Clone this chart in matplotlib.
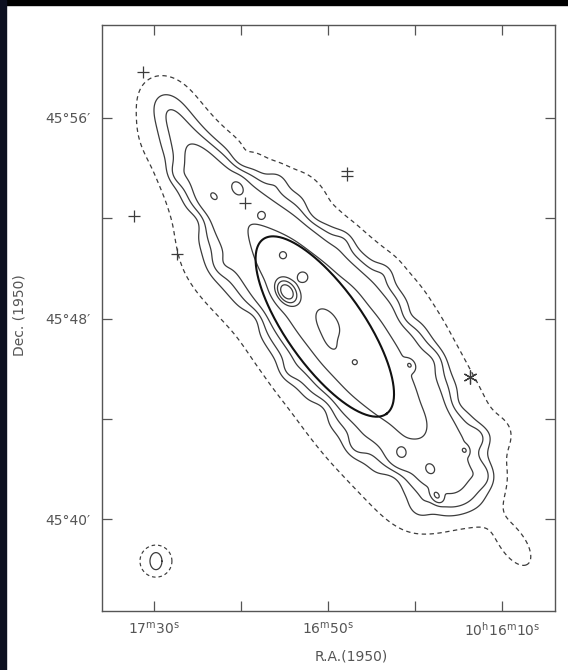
import numpy as np
import matplotlib
matplotlib.use("Agg")
import matplotlib.pyplot as plt
from matplotlib.patches import Rectangle

plt.rcParams['font.family'] = ['DejaVu Sans']
plt.rcParams['mathtext.fontset'] = 'dejavusans'

# ---------------- axes: RA in seconds past 10h00m, Dec in arcmin past 45 deg ----------------
ra_limits = (1061.9, 957.8)
dec_limits = (36.33, 59.71)
ra_ticks = [1050, 1030, 1010, 990, 970]
ra_tick_labels = [r"17$^{\rm m}$30$^{\rm s}$", "", r"16$^{\rm m}$50$^{\rm s}$", "",
                  r"10$^{\rm h}$16$^{\rm m}$10$^{\rm s}$"]
dec_ticks = [56, 52, 48, 44, 40]
dec_tick_labels = ["45°56′", "", "45°48′", "", "45°40′"]

# ---------------- galaxy frame ----------------
center_ra = 1009.1          # s
center_dec = 47.74          # arcmin
major_axis_angle = 54.7     # deg below horizontal (NE-SW)
arcmin_per_sec = 0.1743

# disk components (offsets along major u / minor v axis, arcmin)
disk_u = [-11.0, -9.5, -8.0, -6.5, -5.0, -3.5, -2.0, -0.5, 1.0, 2.5, 4.0, 5.5, 7.0, 8.5, 10.0, 11.5]
disk_v = [-0.35, -0.5, -0.65, -0.5, -0.35, -0.15, 0.0, 0.15, 0.25, 0.3, 0.35, 0.4, 0.45, 0.3, 0.8, 0.8]
disk_amp = [0.20, 0.20, 0.30, 0.37, 0.39, 0.50, 0.57, 0.60, 0.60, 0.57, 0.48, 0.39, 0.33, 0.25, 0.03, 0.02]
disk_su = [0.9] * 16
disk_sv = [0.75, 0.85, 1.0, 1.19, 1.40, 1.41, 1.50, 1.61, 1.64, 1.59, 1.53, 1.51, 1.40, 1.25, 0.6, 0.5]

# faint outer features, edge irregularities and compact knots
clump_u = [-4.5, -5.0, 7.4, 7.0, 4.0, 11.4, -10.0, 10.3,
           -7.5, -6.0, -4.0, -2.5, -0.5, 1.5, 3.5, 5.5, 7.0,
           -8.5, -6.5, -4.5, -2.0, 0.5, 2.5, 4.5, 6.5, 8.0,
           -2.12, -2.24, -3.41, -0.18, 1.74, 3.11, 7.15, 7.98, -6.67, -5.21,
           0.6, 2.68, -0.4, 4.9, 5.81, 7.0, -8.3, -7.0, 8.4]
clump_v = [-3.0, 2.3, 3.0, -2.3, -2.8, 0.9, -1.8, -1.0,
           0.9, 1.6, 2.1, 2.4, 3.0, 2.6, 2.5, 2.3, 2.2,
           -1.6, -2.0, -2.2, -2.4, -2.5, -2.2, -2.0, -1.6, -1.4,
           -0.71, 0.16, 0.02, -0.12, -0.11, 1.62, 1.45, -0.5, 0.12, 0.26,
           -0.53, -0.03, 1.17, 0.35, -0.78, -0.15, -0.5, -1.0, 1.5]
clump_amp = [0.07, 0.05, 0.06, 0.06, 0.04, 0.14, 0.05, -0.05,
             -0.06, 0.07, -0.06, 0.06, 0.06, -0.06, 0.07, -0.05, 0.08,
             0.06, -0.06, 0.06, -0.06, 0.06, -0.06, 0.07, -0.05, 0.06,
             2.0, 0.45, 0.4, 0.3, 0.25, 0.5, 0.3, 0.35, 0.25, 0.2,
             0.2, 0.18, 0.15, 0.2, 0.2, 0.18, 0.07, 0.12, 0.08]
clump_su = [1.5, 0.8, 0.5, 1.5, 1.5, 0.75, 1.0, 0.6,
            0.35, 0.35, 0.4, 0.35, 0.35, 0.4, 0.4, 0.4, 0.35,
            0.35, 0.4, 0.35, 0.4, 0.35, 0.4, 0.35, 0.4, 0.35,
            0.32, 0.15, 0.15, 0.45, 0.08, 0.15, 0.12, 0.18, 0.25, 0.1,
            0.5, 0.5, 0.4, 0.4, 0.35, 0.3, 0.5, 0.4, 0.4]
clump_sv = [0.7, 0.6, 0.5, 0.6, 0.6, 0.38, 0.5, 0.6,
            0.3, 0.3, 0.35, 0.3, 0.3, 0.35, 0.35, 0.35, 0.3,
            0.3, 0.35, 0.3, 0.35, 0.3, 0.35, 0.3, 0.35, 0.3,
            0.22, 0.15, 0.15, 0.28, 0.08, 0.12, 0.1, 0.12, 0.18, 0.1,
            0.25, 0.3, 0.2, 0.3, 0.3, 0.25, 0.3, 0.3, 0.35]

level_dashed = [0.08]
levels_solid = [0.2, 0.27, 0.36, 0.6, 1.0, 1.4, 2.0, 2.8]

# model ellipse (heavy line)
ell_ra = 1010.7
ell_dec = 47.68
ell_major = 4.27
ell_minor = 1.55

# foreground stars
plus_ra = [1052.5, 1054.6, 1044.7, 1029.1]
plus_dec = [57.84, 52.09, 50.57, 52.61]
dcross_ra = [1005.6]
dcross_dec = [53.77]
aster_ra = [977.4]
aster_dec = [45.66]

# beam
beam_ra = 1049.5
beam_dec = 38.32
beam_ring = 0.64
beam_major = 0.34
beam_minor = 0.24

# ---------------- figure ----------------
W, H = 568, 670
fig = plt.figure(figsize=(W / 100, H / 100), dpi=100)
fig.patch.set_facecolor("white")
ax = fig.add_axes([102 / W, 1 - 611 / H, (555 - 102) / W, (611 - 25) / H])

ra = np.linspace(ra_limits[1], ra_limits[0], 700)
dec = np.linspace(dec_limits[0], dec_limits[1], 800)
RA, DEC = np.meshgrid(ra, dec)
X = (center_ra - RA) * arcmin_per_sec
Y = DEC - center_dec
th = np.radians(major_axis_angle)
c, s = np.cos(th), np.sin(th)
U = X * c - Y * s
V = X * s + Y * c

F = np.zeros_like(U)
for u0, v0, a, su, sv in zip(disk_u, disk_v, disk_amp, disk_su, disk_sv):
    F += a * np.exp(-0.5 * ((U - u0) / su) ** 2 - 0.5 * ((V - v0) / sv) ** 2)
for u0, v0, a, su, sv in zip(clump_u, clump_v, clump_amp, clump_su, clump_sv):
    F += a * np.exp(-0.5 * ((U - u0) / su) ** 2 - 0.5 * ((V - v0) / sv) ** 2)

lc = "#3c3c3c"
ax.contour(RA, DEC, F, levels=level_dashed, colors=lc, linewidths=0.9,
           linestyles=[(0, (3.5, 2.8))])
ax.contour(RA, DEC, F, levels=levels_solid, colors=lc, linewidths=0.9)

# heavy ellipse
t = np.linspace(0, 2 * np.pi, 300)
eu = ell_major * np.cos(t)
ev = ell_minor * np.sin(t)
ex = eu * c + ev * s
ey = -eu * s + ev * c
ax.plot(ell_ra - ex / arcmin_per_sec, ell_dec + ey, color="#111111", lw=1.5)

# stars
ax.plot(plus_ra, plus_dec, ls="none", marker="+", ms=9, mew=0.9, color=lc)
ax.plot(dcross_ra, dcross_dec, ls="none", marker="|", ms=10, mew=0.9, color=lc)
for dd in (-0.1, 0.1):
    ax.plot(dcross_ra, [d + dd for d in dcross_dec], ls="none", marker="_", ms=8, mew=0.9, color=lc)
ax.plot(aster_ra, aster_dec, ls="none", marker=(6, 2, 0), ms=10, mew=0.9, color=lc)

# beam
bx = beam_ring * np.cos(t)
by = beam_ring * np.sin(t)
ax.plot(beam_ra - bx / arcmin_per_sec, beam_dec + by, color=lc, lw=0.85, ls=(0, (3, 2.5)))
ax.plot(beam_ra - beam_minor * np.cos(t) / arcmin_per_sec, beam_dec + beam_major * np.sin(t),
        color=lc, lw=0.9)

ax.set_xlim(*ra_limits)
ax.set_ylim(*dec_limits)
ax.set_xticks(ra_ticks)
ax.set_xticklabels(ra_tick_labels)
ax.set_yticks(dec_ticks)
ax.set_yticklabels(dec_tick_labels)
ax.tick_params(direction="in", length=7, width=0.9, color="#555555", labelcolor="#555555",
               labelsize=10, top=True, right=True)
ax.tick_params(axis="x", pad=7)
ax.tick_params(axis="y", pad=8)
for sp in ax.spines.values():
    sp.set_color("#555555")
    sp.set_linewidth(1.0)

fig.text(351 / W, 1 - 657 / H, "R.A.(1950)", ha="center", va="center", fontsize=10, color="#555555")
fig.text(20 / W, 1 - 315 / H, "Dec. (1950)", ha="center", va="center", rotation=90,
         fontsize=10, color="#555555")

fig.add_artist(Rectangle((0, 1 - 5 / H), 1, 5 / H, transform=fig.transFigure, color="black"))
fig.add_artist(Rectangle((0, 0), 6 / W, 1, transform=fig.transFigure, color="#0d1020"))

fig.savefig("out.png", dpi=100, facecolor=fig.get_facecolor())
